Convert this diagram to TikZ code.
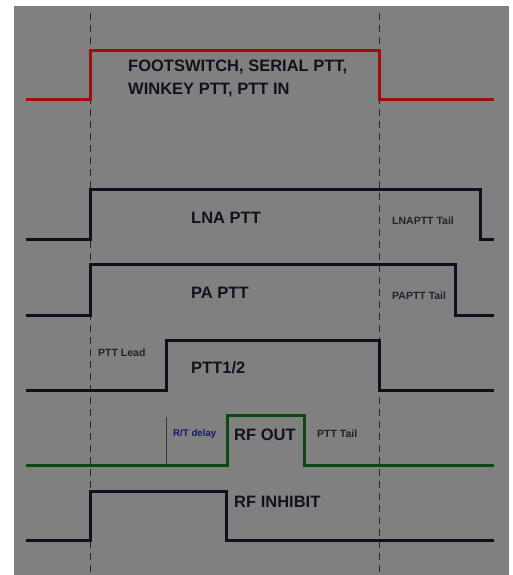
\documentclass[tikz,border=0pt]{standalone}
\usepackage{fontspec}
\setmainfont{Liberation Sans}
\usetikzlibrary{positioning}
\definecolor{panel}{RGB}{128,128,128}
\definecolor{trace}{RGB}{16,16,28}
\definecolor{ftred}{RGB}{158,14,14}
\definecolor{rfgreen}{RGB}{12,72,20}
\definecolor{ink}{RGB}{18,18,30}
\definecolor{rtblue}{RGB}{22,22,120}
\definecolor{guidegray}{RGB}{40,40,40}
\tikzset{
  sig/.style={draw=trace,line width=3pt,line join=miter},
  redsig/.style={sig,draw=ftred},
  grnsig/.style={sig,draw=rfgreen},
  guide/.style={draw=guidegray,line width=0.9pt,dash pattern=on 7pt off 5pt},
  marker/.style={draw=guidegray!80!panel,line width=0.9pt},
  biglbl/.style={font=\fontsize{16.5}{23}\selectfont\bfseries,text=ink,anchor=west,inner sep=0pt,align=left},
  smllbl/.style={font=\fontsize{10.5}{12}\selectfont\bfseries,text=ink!85!panel,anchor=west,inner sep=0pt}
}
\begin{document}
\begin{tikzpicture}[x=1pt,y=-1pt]
  \useasboundingbox (0,0) rectangle (512,575);
  \fill[panel] (14,6.5) rectangle (509,575);

  % guide lines
  \coordinate (g1top) at (90,13);  \coordinate (g1bot) at (90,575);
  \coordinate (g2top) at (379,13); \coordinate (g2bot) at (379,575);
  \draw[guide] (g1top) -- (g1bot);
  \draw[guide] (g2top) -- (g2bot);

  % ptt inputs
  \draw[redsig] (26,100) -- (90,100) -- (90,51) -- (379,51) -- (379,100) -- (494,100);
  \node[biglbl] (ftsw) at (128,78.5) {FOOTSWITCH, SERIAL PTT,\\WINKEY PTT, PTT IN};

  % lna ptt
  \draw[sig] (26,239) -- (90,239) -- (90,189) -- (480,189) -- (480,239) -- (494,239);
  \node[biglbl] (lna) at (191,218) {LNA PTT};
  \node[smllbl] (lnatail) at (392,221) {LNAPTT Tail};

  % pa ptt
  \draw[sig] (26,315) -- (90,315) -- (90,264) -- (455,264) -- (455,315) -- (494,315);
  \node[biglbl] (pa) at (191,293) {PA PTT};
  \node[smllbl] (patail) at (392,296) {PAPTT Tail};

  % ptt1/2
  \draw[sig] (26,390) -- (166,390) -- (166,340) -- (379,340) -- (379,390) -- (494,390);
  \node[smllbl] (lead) at (98,353) {PTT Lead};
  \node[biglbl] (ptt12) at (191,368) {PTT1/2};

  % rf out
  \coordinate (rttop) at (166,417); \coordinate (rtbot) at (166,465);
  \draw[marker] (rttop) -- (rtbot);
  \draw[grnsig] (26,465) -- (227,465) -- (227,415) -- (304,415) -- (304,465) -- (494,465);
  \node[smllbl,text=rtblue,font=\fontsize{9.7}{11}\selectfont\bfseries] (rtdelay) at (173,434) {R/T delay};
  \node[biglbl] (rfout) at (234,435) {RF OUT};
  \node[smllbl] (ptttail) at (317,434) {PTT Tail};

  % rf inhibit
  \draw[sig] (26,540) -- (90,540) -- (90,491) -- (226,491) -- (226,540) -- (494,540);
  \node[biglbl] (inhibit) at (234,502) {RF INHIBIT};
\end{tikzpicture}
\end{document}
